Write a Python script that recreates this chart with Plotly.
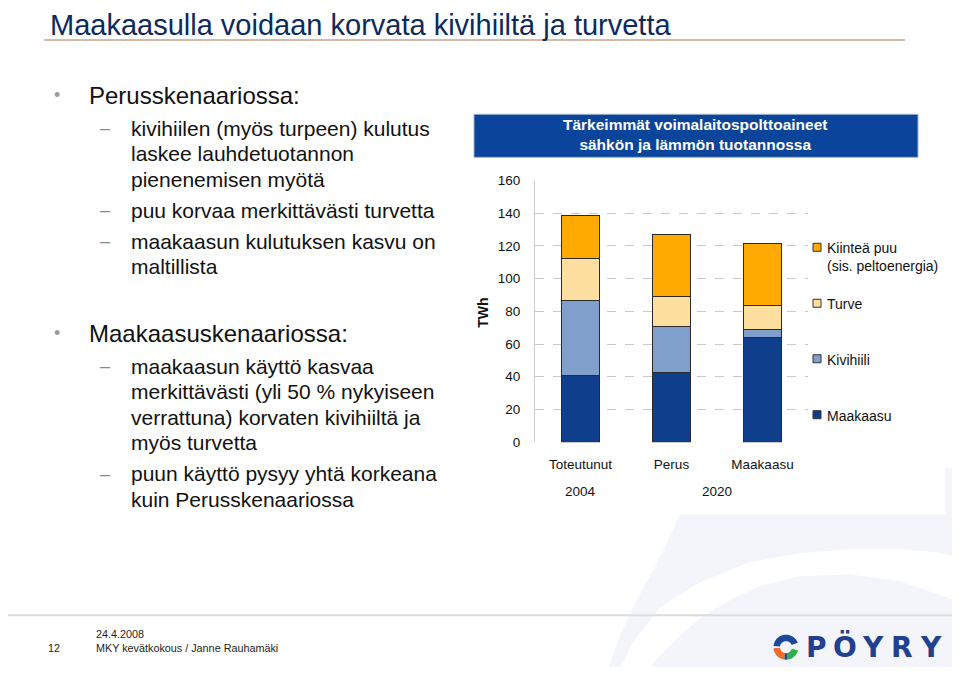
import plotly.graph_objects as go
import numpy as np

# the page body has an 8px margin on every side; size the figure so the page fits 960x675 exactly
OFF = 8
W, H = 960 - 2 * OFF, 675 - 2 * OFF
# vertical calibration of the photographed page (measured from earlier renders)
VS, VB = 0.9776, 6.8

# ---------------- data ----------------
years = ["2004", "2020", "2020"]
scenarios = ["Toteutunut", "Perus", "Maakaasu"]
maakaasu = [40.7, 42.7, 63.8]
kivihiili = [45.7, 28.2, 4.9]
turve = [25.6, 17.9, 14.7]
puu = [26.4, 38.1, 38.0]
y_ticks = [0, 20, 40, 60, 80, 100, 120, 140, 160]

series_names = ["Maakaasu", "Kivihiili", "Turve", "Kiinteä puu<br>(sis. peltoenergia)"]
series_values = [maakaasu, kivihiili, turve, puu]
series_colors = ["#0F3F8C", "#819FCB", "#FFDF9F", "#FFAA00"]

slide_title = "Maakaasulla voidaan korvata kivihiiltä ja turvetta"
chart_title = "<b>Tärkeimmät voimalaitospolttoaineet<br>sähkön ja lämmön tuotannossa</b>"

bullet1 = "Perusskenaariossa:"
bullet1_lines = [["kivihiilen (myös turpeen) kulutus", "laskee lauhdetuotannon", "pienenemisen myötä"],
                 ["puu korvaa merkittävästi turvetta"],
                 ["maakaasun kulutuksen kasvu on", "maltillista"]]
bullet2 = "Maakaasuskenaariossa:"
bullet2_lines = [["maakaasun käyttö kasvaa", "merkittävästi (yli 50 % nykyiseen",
                  "verrattuna) korvaten kivihiiltä ja", "myös turvetta"],
                 ["puun käyttö pysyy yhtä korkeana", "kuin Perusskenaariossa"]]

footer_date = "24.4.2008"
footer_page = "12"
footer_text = "MKY kevätkokous / Janne Rauhamäki"
logo_letters = ["P", "Ö", "Y", "R", "Y"]

FONT = "Liberation Sans, Arial, sans-serif"


def px(x):
    return (x - OFF) / W


def py_raw(y):
    return 1 - (y - OFF) / H


def py(y):
    return py_raw((y - VB) / VS)


fig = go.Figure()
for name, vals, col in zip(series_names, series_values, series_colors):
    fig.add_trace(go.Bar(
        x=scenarios, y=vals, name=name,
        marker=dict(color=col, line=dict(color="#2a2a2a", width=1)),
        showlegend=False,
    ))

annotations = []
shapes = []


def poly_path(points):
    return "M " + " L ".join(f"{px(a):.5f},{py(b):.5f}" for a, b in points) + " Z"


# faint background swoosh (slide template decoration)
SWOOSH = "#F3F5FB"
shapes.append(dict(type="path", xref="paper", yref="paper", layer="below",
                   path=poly_path([(606, 675), (618, 640), (634, 605), (652, 572), (668, 540), (680, 514),
                                   (945, 514), (945, 468), (960, 468), (960, 675)]),
                   fillcolor=SWOOSH, line=dict(width=0)))
shapes.append(dict(type="path", xref="paper", yref="paper", layer="below",
                   path=poly_path([(617, 675), (633, 642), (660, 607), (700, 582), (750, 562), (800, 553),
                                   (850, 549), (900, 549), (935, 552), (960, 557),
                                   (960, 602), (947, 597), (900, 581), (850, 574), (800, 576),
                                   (760, 586), (733, 598), (700, 618), (680, 636), (660, 655), (645, 675)]),
                   fillcolor="white", line=dict(width=0)))

# year labels under the scenario labels, placed through the category axis
for yr in dict.fromkeys(years):
    idx = [i for i, v in enumerate(years) if v == yr]
    annotations.append(dict(x=float(np.mean(idx)), xref="x", y=py(491.5), yref="paper", text=yr,
                            showarrow=False, xanchor="center", yanchor="middle",
                            font=dict(family=FONT, size=13.5, color="#111111")))

# slide title (kept as high as the page allows)
annotations.append(dict(x=px(48), y=py_raw(18.5), xref="paper", yref="paper", text=slide_title,
                        showarrow=False, xanchor="left", yanchor="middle",
                        font=dict(family=FONT, size=29, color="#0B2A5E")))
shapes.append(dict(type="line", xref="paper", yref="paper", x0=px(44), x1=px(905),
                   y0=py_raw(33.5), y1=py_raw(33.5), line=dict(color="#D6B9A6", width=2)))


def add_block(head, head_y, groups, first_y):
    annotations.append(dict(x=px(57), y=py(head_y), xref="paper", yref="paper", text="•",
                            showarrow=False, xanchor="center", yanchor="middle",
                            font=dict(family=FONT, size=18, color="#9A9A9A")))
    annotations.append(dict(x=px(87), y=py(head_y), xref="paper", yref="paper", text=head,
                            showarrow=False, xanchor="left", yanchor="middle",
                            font=dict(family=FONT, size=24, color="#111111")))
    y = first_y
    for g in groups:
        annotations.append(dict(x=px(105), y=py(y), xref="paper", yref="paper", text="–",
                                showarrow=False, xanchor="center", yanchor="middle",
                                font=dict(family=FONT, size=18, color="#8A8A8A")))
        for line in g:
            annotations.append(dict(x=px(129), y=py(y), xref="paper", yref="paper", text=line,
                                    showarrow=False, xanchor="left", yanchor="middle",
                                    font=dict(family=FONT, size=21, color="#111111")))
            y += 25.5
        y += 5.5


add_block(bullet1, 95, bullet1_lines, 128)
add_block(bullet2, 333, bullet2_lines, 366)

# chart title box
shapes.append(dict(type="rect", xref="paper", yref="paper", x0=px(474), x1=px(918),
                   y0=py(157), y1=py(114), fillcolor="#0B449B",
                   line=dict(color="#9DB0CF", width=1), layer="above"))
annotations.append(dict(x=px(695), y=py(134), xref="paper", yref="paper", text=chart_title,
                        showarrow=False, xanchor="center", yanchor="middle",
                        font=dict(family=FONT, size=15.5, color="white")))

# axis title
annotations.append(dict(x=px(483.5), y=py(312), xref="paper", yref="paper", text="<b>TWh</b>",
                        showarrow=False, xanchor="center", yanchor="middle", textangle=-90,
                        font=dict(family=FONT, size=14, color="#111111")))

# legend (spread like the original)
legend_y = [247, 303, 358.5, 414.5]
for name, col, ly in zip(series_names[::-1], series_colors[::-1], legend_y):
    shapes.append(dict(type="rect", xref="paper", yref="paper", x0=px(813), x1=px(821),
                       y0=py(ly + 4), y1=py(ly - 4), fillcolor=col,
                       line=dict(color="#333333", width=1)))
    annotations.append(dict(x=px(825), y=py(ly - 9), xref="paper", yref="paper", text=name,
                            showarrow=False, xanchor="left", yanchor="top", align="left",
                            font=dict(family=FONT, size=14, color="#111111")))

# footer
shapes.append(dict(type="line", xref="paper", yref="paper", x0=0, x1=1, y0=py(615), y1=py(615),
                   line=dict(color="#DCDCDC", width=2)))
annotations.append(dict(x=px(94), y=py(634), xref="paper", yref="paper", text=footer_date,
                        showarrow=False, xanchor="left", yanchor="middle",
                        font=dict(family=FONT, size=10.8, color="#222222")))
annotations.append(dict(x=px(94), y=py(648), xref="paper", yref="paper", text=footer_text,
                        showarrow=False, xanchor="left", yanchor="middle",
                        font=dict(family=FONT, size=10.8, color="#222222")))
annotations.append(dict(x=px(54), y=py(648), xref="paper", yref="paper", text=footer_page,
                        showarrow=False, xanchor="center", yanchor="middle",
                        font=dict(family=FONT, size=10.8, color="#222222")))


def sector(cx, cy, r0, r1, a0, a1):
    angs = np.linspace(np.radians(a0), np.radians(a1), 24)
    outer = [(cx + r1 * np.cos(a), cy - r1 * np.sin(a)) for a in angs]
    inner = [(cx + r0 * np.cos(a), cy - r0 * np.sin(a)) for a in angs[::-1]]
    return poly_path(outer + inner)


cx, cy = 786, 647
for (a0, a1, col) in [(20, 175, "#1F4A9A"), (185, 262, "#F26B2A"), (278, 345, "#2DAF4A"), (262, 278, "#1F4A9A")]:
    shapes.append(dict(type="path", xref="paper", yref="paper",
                       path=sector(cx, cy, 6, 12.5, a0, a1), fillcolor=col, line=dict(width=0)))

for i, ch in enumerate(logo_letters):
    annotations.append(dict(x=px(816 + i * 28.7), y=py(647), xref="paper", yref="paper", text=f"<b>{ch}</b>",
                            showarrow=False, xanchor="center", yanchor="middle",
                            font=dict(family="DejaVu Sans, sans-serif", size=28, color="#22408F")))

fig.update_layout(
    width=W, height=H,
    margin=dict(l=0, r=0, t=0, b=0),
    paper_bgcolor="white", plot_bgcolor="white",
    barmode="stack", bargap=0.59,
    font=dict(family=FONT, size=13.5, color="#111111"),
    xaxis=dict(domain=[px(535), px(808)], showgrid=False, showline=False, ticks="",
               ticklabelstandoff=12, tickfont=dict(size=13.5, color="#111111")),
    yaxis=dict(domain=[py(442), py(180)], range=[0, 160], tickvals=y_ticks,
               showgrid=True, gridcolor="#C8C8C8", griddash="dash", gridwidth=1,
               zeroline=False, showline=True, linecolor="#D0D0D0", linewidth=1,
               ticks="", ticklabelstandoff=11, tickfont=dict(size=13.5, color="#111111")),
    annotations=annotations, shapes=shapes,
)

fig.write_html("out.html")
